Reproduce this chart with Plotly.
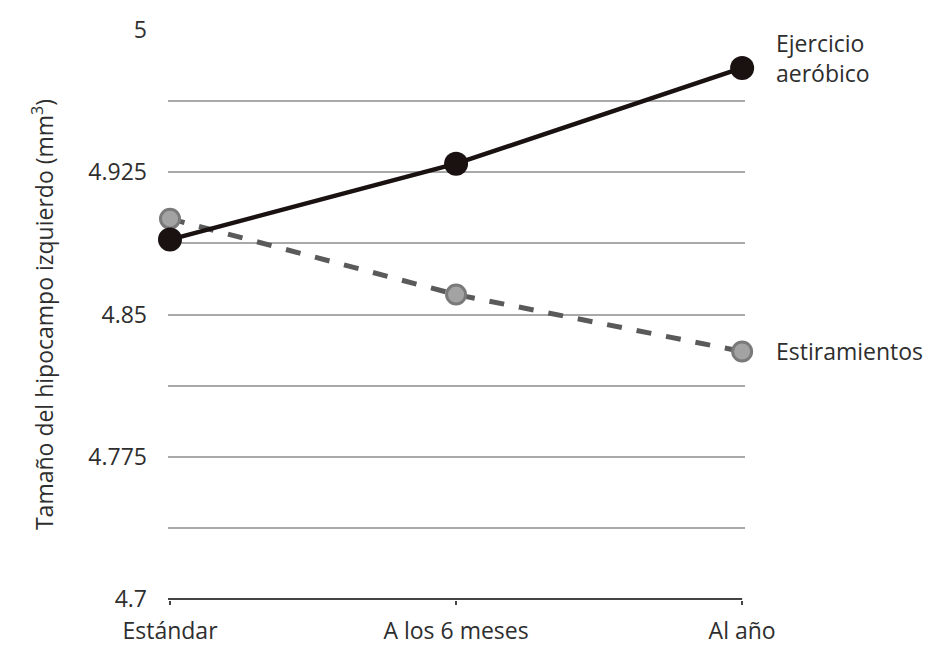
import plotly.graph_objects as go

categories = ["Estándar", "A los 6 meses", "Al año"]
aerobico = [4.8895, 4.9295, 4.9800]
estiramientos = [4.9005, 4.8605, 4.8305]
y_ticks = [4.7, 4.775, 4.85, 4.925, 5.0]
y_tick_labels = ["4.7", "4.775", "4.85", "4.925", "5"]

FONT = "Open Sans"
FS = 23
TXT = "#2e2e2e"
GRID = "#a9a9a9"
x_idx = list(range(len(categories)))

fig = go.Figure()
fig.add_trace(go.Scatter(
    x=x_idx, y=estiramientos, mode="lines+markers",
    line=dict(color="#5a5a5a", width=5, dash="dash"),
    marker=dict(size=19, color="#a3a3a3", line=dict(color="#7a7a7a", width=3)),
    cliponaxis=False, showlegend=False))
fig.add_trace(go.Scatter(
    x=x_idx, y=aerobico, mode="lines+markers",
    line=dict(color="#1a1111", width=4.5),
    marker=dict(size=24, color="#1a1111"),
    cliponaxis=False, showlegend=False))

fig.add_annotation(x=2, y=aerobico[-1], xref="x", yref="y",
                   text="Ejercicio<br>aeróbico", showarrow=False,
                   xanchor="left", xshift=32, yshift=10, align="left",
                   font=dict(family=FONT, size=FS, color=TXT))
fig.add_annotation(x=2, y=estiramientos[-1], xref="x", yref="y",
                   text="Estiramientos", showarrow=False,
                   xanchor="left", xshift=32, align="left",
                   font=dict(family=FONT, size=FS, color=TXT))

fig.update_layout(
    width=927, height=638,
    margin=dict(l=160, r=190, t=21, b=46),
    paper_bgcolor="white", plot_bgcolor="white",
    font=dict(family=FONT, size=FS, color=TXT),
    xaxis=dict(range=[-0.007, 2.01], tickmode="array", tickvals=x_idx,
               ticktext=categories, showgrid=False, zeroline=False,
               showline=False, ticks="outside", ticklen=4, tickcolor="#444",
               tickwidth=1.5, ticklabelstandoff=6, automargin=False,
               tickfont=dict(size=FS, color=TXT)),
    yaxis=dict(range=[4.6995, 5.0005], tickmode="array", tickvals=y_ticks,
               ticktext=y_tick_labels,
               showgrid=True, gridcolor=GRID, gridwidth=2,
               minor=dict(tick0=4.7, dtick=0.0375, showgrid=True,
                          gridcolor=GRID, gridwidth=2, ticks=""),
               zeroline=False, showline=False, ticks="",
               ticklabelstandoff=20, automargin=False,
               title=dict(text="Tamaño del hipocampo izquierdo (mm<sup>3</sup>)",
                          font=dict(size=FS, color=TXT), standoff=28),
               tickfont=dict(size=FS, color=TXT)),
)
fig.add_shape(type="line", xref="x", yref="y", x0=-0.007, x1=2.0, y0=4.7, y1=4.7,
              line=dict(color="#444", width=2), layer="below")

fig.write_html("out.html")
